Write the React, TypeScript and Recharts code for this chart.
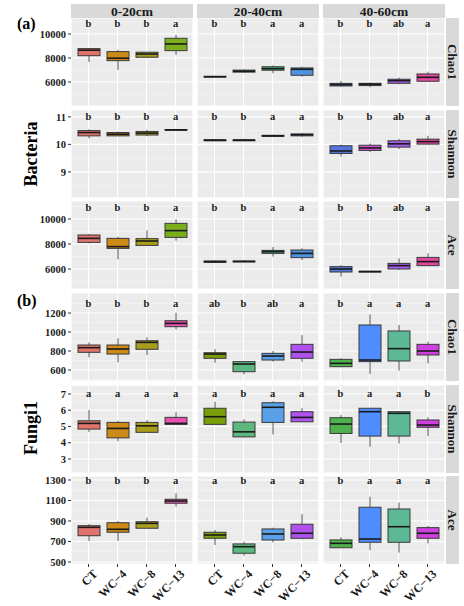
import React from 'react';
import { ComposedChart, Bar, Scatter, XAxis, YAxis, CartesianGrid } from 'recharts';

const groups = ['CT', 'WC−4', 'WC−8', 'WC−13'];
const depths = ['0-20cm', '20-40cm', '40-60cm'];
const metrics = ['Chao1', 'Shannon', 'Ace', 'Chao1', 'Shannon', 'Ace'];

// [min, q1, median, q3, max] for CT, WC-4, WC-8, WC-13 — one block per depth
const bacChao1 = [
  [[7670, 8190, 8650, 8780, 8800], [7000, 7780, 7980, 8530, 8670], [8000, 8060, 8330, 8480, 8500], [8250, 8610, 9170, 9640, 9920]],
  [[6380, 6410, 6440, 6470, 6500], [6760, 6820, 6900, 6990, 7060], [6730, 6980, 7110, 7270, 7390], [6440, 6560, 7060, 7170, 7280]],
  [[5610, 5670, 5780, 5890, 6080], [5560, 5700, 5810, 5890, 5950], [5810, 5890, 6110, 6230, 6360], [6000, 6060, 6390, 6670, 6860]],
];
const bacShannon = [
  [[10.22, 10.31, 10.43, 10.5, 10.55], [10.3, 10.31, 10.37, 10.43, 10.47], [10.3, 10.34, 10.41, 10.47, 10.53], [10.5, 10.51, 10.53, 10.54, 10.56]],
  [[10.12, 10.13, 10.15, 10.17, 10.18], [10.12, 10.13, 10.15, 10.17, 10.2], [10.27, 10.29, 10.31, 10.33, 10.35], [10.28, 10.31, 10.35, 10.38, 10.41]],
  [[9.56, 9.67, 9.76, 9.95, 9.99], [9.72, 9.78, 9.87, 9.97, 10.03], [9.83, 9.9, 10.02, 10.13, 10.2], [10.0, 10.01, 10.1, 10.19, 10.31]],
];
const bacAce = [
  [[8050, 8130, 8450, 8720, 8800], [6770, 7650, 7790, 8450, 8590], [7850, 7890, 8240, 8430, 9070], [8270, 8530, 9070, 9650, 9970]],
  [[6480, 6530, 6590, 6640, 6680], [6550, 6570, 6600, 6640, 6680], [6990, 7250, 7390, 7490, 7760], [6720, 6910, 7250, 7520, 7650]],
  [[5390, 5760, 6000, 6190, 6320], [5740, 5760, 5790, 5820, 5840], [5920, 6000, 6270, 6450, 6850], [6230, 6270, 6590, 6930, 7250]],
];
const fungiChao1 = [
  [[734, 786, 835, 863, 891], [681, 768, 821, 863, 934], [758, 818, 891, 908, 944], [1028, 1056, 1091, 1119, 1203]],
  [[677, 723, 768, 782, 818], [554, 582, 663, 688, 695], [688, 705, 747, 775, 800], [688, 723, 789, 870, 968]],
  [[630, 635, 670, 712, 726], [558, 688, 705, 1074, 1186], [593, 695, 825, 1011, 1074], [670, 758, 800, 870, 898]],
];
const fungiShannon = [
  [[4.67, 4.84, 5.19, 5.35, 6.01], [4.1, 4.3, 4.88, 5.25, 5.35], [4.6, 4.64, 5.04, 5.25, 5.39], [5.1, 5.13, 5.19, 5.56, 5.87]],
  [[5.1, 5.13, 5.6, 6.12, 6.52], [4.33, 4.36, 4.67, 5.27, 5.44], [4.51, 5.25, 6.18, 6.46, 6.57], [5.27, 5.29, 5.56, 5.91, 6.12]],
  [[3.99, 4.57, 5.15, 5.54, 5.7], [3.75, 4.41, 5.91, 6.12, 6.14], [3.96, 4.41, 5.81, 5.91, 5.95], [4.41, 4.95, 5.09, 5.4, 5.56]],
];
const fungiAce = [
  [[705, 756, 838, 854, 871], [705, 790, 819, 883, 900], [826, 829, 877, 893, 932], [1040, 1073, 1095, 1112, 1170]],
  [[666, 731, 763, 790, 812], [561, 585, 649, 676, 698], [692, 714, 773, 822, 835], [721, 731, 780, 868, 965]],
  [[639, 639, 682, 715, 741], [617, 692, 724, 1034, 1137], [591, 692, 844, 1017, 1079], [682, 731, 780, 835, 851]],
];

// significance letters
const bacSig = [['b', 'b', 'b', 'a'], ['b', 'b', 'a', 'a'], ['b', 'b', 'ab', 'a']];
const fungiChao1Sig = [['b', 'b', 'b', 'a'], ['ab', 'b', 'ab', 'a'], ['b', 'a', 'a', 'a']];
const fungiShannonSig = [['a', 'a', 'a', 'a'], ['a', 'b', 'a', 'a'], ['b', 'a', 'a', 'b']];
const fungiAceSig = [['b', 'b', 'b', 'a'], ['a', 'b', 'a', 'a'], ['b', 'a', 'a', 'a']];

const bacColors = [
  ['#E0736B', '#CC8A17', '#A89E1C', '#7BAE1A'],
  ['#2E9E4E', '#35B070', '#45B876', '#4C92E0'],
  ['#5577DD', '#D24FD0', '#A35CEB', '#E0479E'],
];
const fungiColors = [
  ['#E0736B', '#CC8A17', '#A89E1C', '#E552B0'],
  ['#7A9E0A', '#5DB87F', '#5AA0E8', '#B052F0'],
  ['#4DB24D', '#4F8CFF', '#5DB896', '#D040E0'],
];

const rows = [
  { stats: bacChao1, sig: bacSig, colors: bacColors, domain: [4000, 11330], major: [6000, 8000, 10000], minor: [5000, 7000, 9000, 11000], letterY: 10880 },
  { stats: bacShannon, sig: bacSig, colors: bacColors, domain: [8.05, 11.25], major: [9, 10, 11], minor: [8.5, 9.5, 10.5], letterY: 11.0 },
  { stats: bacAce, sig: bacSig, colors: bacColors, domain: [4400, 11440], major: [6000, 8000, 10000], minor: [5000, 7000, 9000, 11000], letterY: 10960 },
  { stats: fungiChao1, sig: fungiChao1Sig, colors: fungiColors, domain: [484, 1411], major: [600, 800, 1000, 1200], minor: [500, 700, 900, 1100, 1300], letterY: 1300 },
  { stats: fungiShannon, sig: fungiShannonSig, colors: fungiColors, domain: [2.14, 7.55], major: [3, 4, 5, 6, 7], minor: [2.5, 3.5, 4.5, 5.5, 6.5, 7.5], letterY: 7.0 },
  { stats: fungiAce, sig: fungiAceSig, colors: fungiColors, domain: [480, 1339], major: [500, 700, 900, 1100, 1300], minor: [600, 800, 1000, 1200], letterY: 1292 },
];

const FONT = "'Liberation Serif', 'Times New Roman', serif";
const PW = 122;
const PH = 88;
const COL_X = [71, 197, 323];
const ROW_Y = [18, 110, 201, 293, 385, 476];

const BoxShape = (p: any) => {
  const { x, y, width, height, payload } = p;
  if (x == null || y == null) return null;
  const top = Math.min(y, y + height);
  const bot = Math.max(y, y + height);
  const { min, q1, median, q3, max, color } = payload;
  const py = (v: number) => bot - ((v - min) / (max - min)) * (bot - top);
  const cx = x + width / 2;
  return (
    <g>
      <line x1={cx} x2={cx} y1={py(max)} y2={py(q3)} stroke="#555" strokeWidth={1} />
      <line x1={cx} x2={cx} y1={py(q1)} y2={py(min)} stroke="#555" strokeWidth={1} />
      <rect x={x} y={py(q3)} width={width} height={Math.max(py(q1) - py(q3), 0.6)} fill={color} stroke="#3a3a3a" strokeWidth={1} />
      <line x1={x} x2={x + width} y1={py(median)} y2={py(median)} stroke="#1a1a1a" strokeWidth={1.6} />
    </g>
  );
};

const SigShape = (p: any) => (
  <text x={p.cx} y={p.cy} textAnchor="middle" dominantBaseline="central" fontFamily={FONT} fontWeight="bold" fontSize={10.5} fill="#1a1a1a">
    {p.payload.sig}
  </text>
);

const XTick = ({ x, y, payload }: any) => (
  <g transform={`translate(${x + 4},${y})`}>
    <text transform="rotate(-45)" textAnchor="end" dy={8} fontFamily={FONT} fontWeight="bold" fontSize={12} fill="#1a1a1a">
      {payload.value}
    </text>
  </g>
);

const Panel = ({ r, c }: { r: number; c: number }) => {
  const row = rows[r];
  const isLeft = c === 0;
  const isBottom = r === rows.length - 1;
  const data = groups.map((g, i) => {
    const [min, q1, median, q3, max] = row.stats[c][i];
    return { g, min, q1, median, q3, max, range: [min, max], ly: row.letterY, sig: row.sig[c][i], color: row.colors[c][i] };
  });
  const [lo, hi] = row.domain;
  const minorGen = (props: any) => {
    const vals = row.minor.filter((v) => v > lo && v < hi);
    const s = props?.yAxis?.scale;
    if (typeof s === 'function') return vals.map((v) => s(v));
    const o = props.offset;
    return vals.map((v) => o.top + ((hi - v) / (hi - lo)) * o.height);
  };
  const yw = isLeft ? 46 : 0;
  const xh = isBottom ? 42 : 0;
  return (
    <div style={{ position: 'absolute', left: COL_X[c] - yw, top: ROW_Y[r] }}>
      <ComposedChart width={PW + yw} height={PH + xh} data={data} margin={{ top: 0, right: 0, bottom: 0, left: 0 }} style={{ overflow: 'visible' }}>
        <CartesianGrid fill="#EBEBEB" stroke="#F7F7F7" strokeWidth={0.6} vertical={false} horizontalCoordinatesGenerator={minorGen} />
        <CartesianGrid stroke="#FFFFFF" strokeWidth={1.1} />
        <XAxis
          dataKey="g"
          type="category"
          padding={{ left: 3, right: 3 }}
          hide={!isBottom}
          height={xh}
          axisLine={false}
          tickLine={{ stroke: '#333' }}
          tickSize={3}
          interval={0}
          tick={<XTick />}
        />
        <YAxis
          type="number"
          domain={row.domain}
          allowDataOverflow
          ticks={row.major}
          hide={!isLeft}
          width={yw}
          axisLine={false}
          tickLine={{ stroke: '#333' }}
          tickSize={3}
          tickMargin={2}
          interval={0}
          tick={{ fill: '#1a1a1a', fontSize: 10.5, fontWeight: 'bold', fontFamily: FONT }}
        />
        <Bar dataKey="range" barSize={22} shape={BoxShape} isAnimationActive={false} />
        <Scatter dataKey="ly" shape={SigShape} isAnimationActive={false} />
      </ComposedChart>
    </div>
  );
};

export default function App() {
  return (
    <div style={{ position: 'absolute', left: 0, top: 0, width: 464, height: 606, background: '#fff', overflow: 'hidden' }}>
      <svg width={464} height={606} style={{ position: 'absolute', left: 0, top: 0 }}>
        {depths.map((d, c) => (
          <g key={d}>
            <rect x={COL_X[c]} y={4} width={PW} height={14} fill="#D9D9D9" />
            <text x={COL_X[c] + PW / 2} y={11} textAnchor="middle" dominantBaseline="central" fontFamily={FONT} fontWeight="bold" fontSize={13.5} fill="#1a1a1a">
              {d}
            </text>
          </g>
        ))}
        {metrics.map((m, r) => (
          <g key={r}>
            <rect x={446} y={ROW_Y[r]} width={13} height={PH} fill="#D9D9D9" />
            <text
              transform={`translate(452.5,${ROW_Y[r] + PH / 2}) rotate(90)`}
              textAnchor="middle"
              dominantBaseline="central"
              fontFamily={FONT}
              fontWeight="bold"
              fontSize={13}
              fill="#1a1a1a"
            >
              {m}
            </text>
          </g>
        ))}
        <text x={17} y={29} fontFamily={FONT} fontWeight="bold" fontSize={16} fill="#000">(a)</text>
        <text x={17} y={306} fontFamily={FONT} fontWeight="bold" fontSize={16} fill="#000">(b)</text>
        <text transform="translate(31,154) rotate(-90)" textAnchor="middle" dominantBaseline="central" fontFamily={FONT} fontWeight="bold" fontSize={18} fill="#000">
          Bacteria
        </text>
        <text transform="translate(31,428) rotate(-90)" textAnchor="middle" dominantBaseline="central" fontFamily={FONT} fontWeight="bold" fontSize={18} fill="#000">
          Fungi1
        </text>
      </svg>
      {rows.map((_, r) => depths.map((__, c) => <Panel key={r + '-' + c} r={r} c={c} />))}
    </div>
  );
}
